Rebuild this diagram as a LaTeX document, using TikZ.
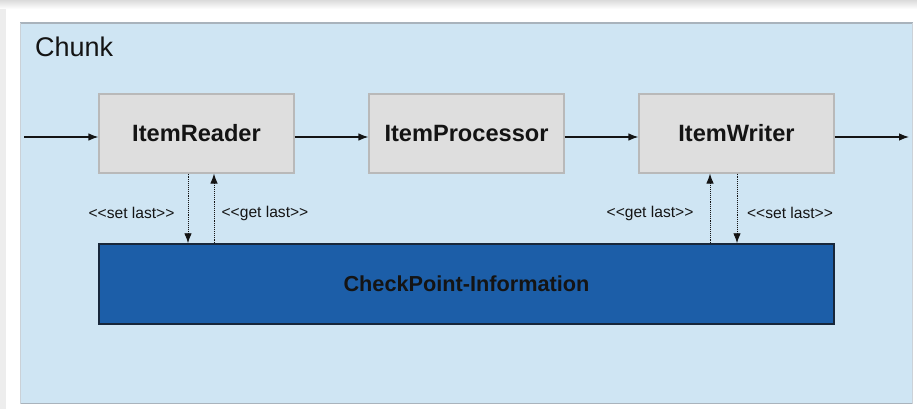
\documentclass[tikz,border=0pt]{standalone}
\usepackage{fontspec}
\setmainfont{Liberation Sans}
\usetikzlibrary{arrows.meta}
\definecolor{chunkfill}{HTML}{CFE5F3}
\definecolor{chunkedge}{HTML}{A9B3BC}
\definecolor{stepfill}{HTML}{DEDEDE}
\definecolor{stepedge}{HTML}{B9B9B9}
\definecolor{cpfill}{HTML}{1C5EA8}
\definecolor{cpedge}{HTML}{18273A}
\definecolor{ink}{HTML}{141414}
\tikzset{
  stepbox/.style={draw=stepedge, line width=1.2pt, fill=stepfill, minimum width=195pt,
    minimum height=79pt, inner sep=0pt, font=\fontsize{23.6}{28}\selectfont\bfseries, text=ink},
  cpbox/.style={draw=cpedge, line width=1.5pt, fill=cpfill, minimum width=735pt,
    minimum height=80pt, inner sep=0pt, font=\fontsize{21.7}{26}\selectfont\bfseries, text=ink},
  flow/.style={draw=ink, line width=1.2pt, -{Latex[length=10pt,width=7.5pt]}},
  call/.style={draw=ink, line width=0.9pt, densely dotted, -{Latex[length=10pt,width=7.5pt]}},
  calllabel/.style={font=\fontsize{15.6}{18}\selectfont, text=ink, inner sep=0pt},
}
\begin{document}
\begin{tikzpicture}[x=1pt, y=-1pt]
\useasboundingbox (0,0) rectangle (917,409);
\fill[white] (0,0) rectangle (917,409);
% soft page shadow
\shade[top color=black!14, bottom color=white] (0,0) rectangle (917,9);
\fill[black!7] (0,9) rectangle (6,409);
% chunk frame
\fill[chunkfill] (20,23) rectangle (913,404);
\draw[chunkedge, line width=2pt] (20,23) -- (913,23);
\draw[chunkedge, line width=1.2pt] (20,403.5) -- (913,403.5);
\draw[chunkedge!60, line width=1pt] (912.5,23) -- (912.5,404);
\draw[chunkedge!60, line width=1pt] (20.5,23) -- (20.5,404);
\node[anchor=base west, font=\fontsize{27}{32}\selectfont, text=ink, inner sep=0pt] (chunk) at (35,57) {Chunk};

% item steps
\node[stepbox] (reader) at (196.5,133.5) {ItemReader};
\node[stepbox] (proc) at (466.5,133.5) {ItemProcessor};
\node[stepbox] (writer) at (736.5,133.5) {ItemWriter};
\node[cpbox] (cp) at (466.5,284) {CheckPoint-Information};

\coordinate (in) at (24,137);
\coordinate (out) at (909,137);
\draw[flow] (in) -- (in -| reader.west);
\draw[flow] (reader.east |- in) -- (proc.west |- in);
\draw[flow] (proc.east |- in) -- (writer.west |- in);
\draw[flow] (writer.east |- in) -- (out);

% checkpoint calls
\coordinate (rs) at (188,0);
\coordinate (rg) at (214,0);
\coordinate (wg) at (710,0);
\coordinate (ws) at (737,0);
\draw[call] (reader.south -| rs) -- (cp.north -| rs);
\draw[call] (cp.north -| rg) -- (reader.south -| rg);
\draw[call] (cp.north -| wg) -- (writer.south -| wg);
\draw[call] (writer.south -| ws) -- (cp.north -| ws);
\node[calllabel] (rsl) at (131.5,213) {<{}<set last>{}>};
\node[calllabel] (rgl) at (265,213) {<{}<get last>{}>};
\node[calllabel] (wgl) at (650,213) {<{}<get last>{}>};
\node[calllabel] (wsl) at (790,213) {<{}<set last>{}>};
\end{tikzpicture}
\end{document}
